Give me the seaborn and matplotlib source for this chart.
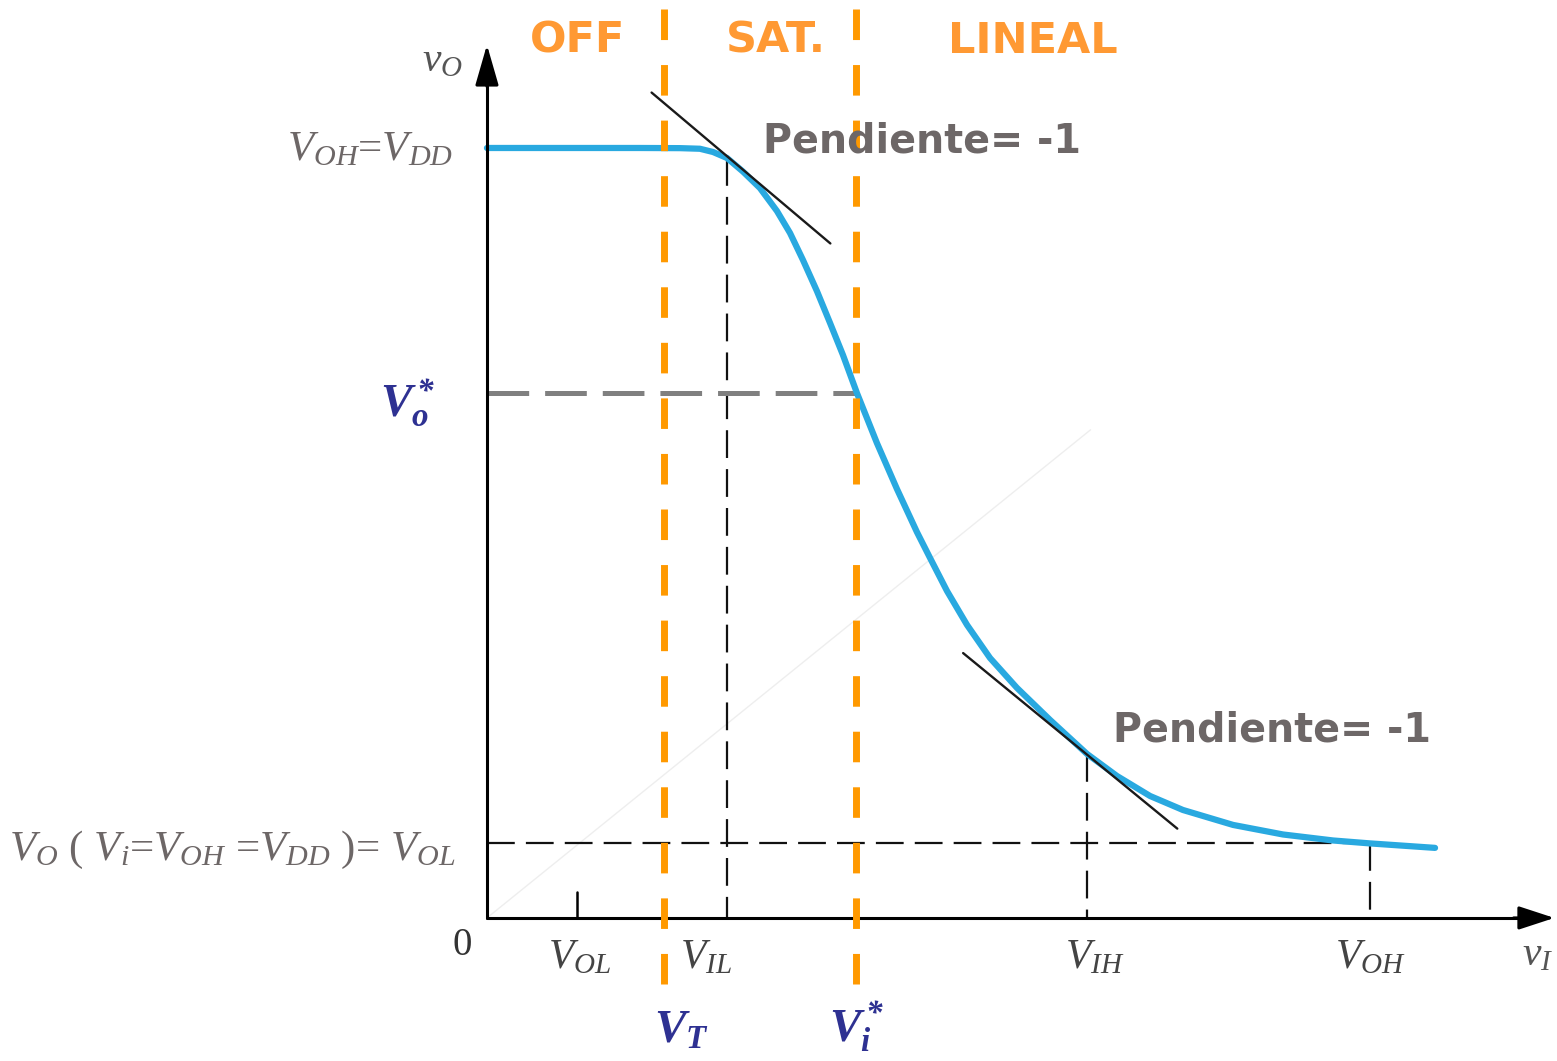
import matplotlib
matplotlib.use('Agg')
from matplotlib import pyplot as plt
import seaborn as sns

# --- datos (unidades arbitrarias de tensión) ---
vi_curve = [0.000, 0.864, 1.090, 1.203, 1.277, 1.356, 1.446, 1.542, 1.638, 1.712,
            1.785, 1.864, 1.938, 2.011, 2.090, 2.203, 2.316, 2.429, 2.503, 2.599,
            2.712, 2.842, 2.994, 3.181, 3.390, 3.559, 3.746, 3.932, 4.215, 4.497,
            4.780, 4.989, 5.356]
vo_curve = [5.000, 5.000, 4.999, 4.995, 4.974, 4.935, 4.847, 4.740, 4.591, 4.448,
            4.273, 4.071, 3.864, 3.656, 3.409, 3.084, 2.786, 2.506, 2.338, 2.123,
            1.903, 1.688, 1.494, 1.286, 1.065, 0.922, 0.792, 0.701, 0.604, 0.542,
            0.503, 0.484, 0.455]

V_DD = 5.0
V_OL_x = 0.51      # marca V_OL sobre el eje x
V_OL_y = 0.487     # nivel V_OL sobre el eje y
V_T = 1.0
V_IL = 1.356
V_IL_out = 4.935
V_i_star = 2.085
V_o_star = 3.41
V_IH = 3.39
V_IH_out = 1.065
V_OH = 4.989

tang_IL_x = [0.93, 1.94]
tang_IL_y = [5.36, 4.38]
tang_IH_x = [2.69, 3.90]
tang_IH_y = [1.72, 0.58]

region_names = ['OFF', 'SAT.', 'LINEAL']
region_x = [0.51, 1.63, 3.085]

sns.set_theme(style='white')
plt.rcParams['font.family'] = ['Liberation Serif', 'DejaVu Serif']
plt.rcParams['mathtext.fontset'] = 'custom'
plt.rcParams['mathtext.rm'] = 'Liberation Serif'
plt.rcParams['mathtext.it'] = 'Liberation Serif:italic'
plt.rcParams['mathtext.bf'] = 'Liberation Serif:bold:italic'
plt.rcParams['lines.scale_dashes'] = False

GRIS = '#6d6767'
AZUL = '#2e3192'
NARANJA = '#ff9900'
NARANJA_TXT = '#ff9933'
CURVA = '#29a9e0'

fig = plt.figure(figsize=(15.57, 10.61), dpi=100)
ax = fig.add_axes([0, 0, 1, 1])
ax.set_xlim(-2.751, 6.045)
ax.set_ylim(-0.929, 5.961)
ax.axis('off')

# diagonal tenue v_O = v_I del original
ax.plot([0, 3.41], [0, 3.17], color='#eeeeee', lw=1, zorder=1)

# lineas auxiliares negras discontinuas
neg = dict(color='#111111', lw=1.6, dashes=(20, 8), zorder=2)
ax.plot([0, V_OH], [V_OL_y, V_OL_y], **neg)
ax.plot([V_IL, V_IL], [V_IL_out, 0], **neg)
ax.plot([V_IH, V_IH], [V_IH_out, 0], **neg)
ax.plot([V_OH, V_OH], [V_OL_y, 0], **neg)

# V_o* gris
ax.plot([0, V_i_star], [V_o_star, V_o_star], color='#808080', lw=3.6,
        dashes=(30, 11.5), zorder=2)

# curva de transferencia
sns.lineplot(x=vi_curve, y=vo_curve, sort=False, estimator=None, color=CURVA,
             lw=4.5, ax=ax, zorder=3)

# tangentes pendiente -1
ax.plot(tang_IL_x, tang_IL_y, color='#1a1a1a', lw=1.7, zorder=4)
ax.plot(tang_IH_x, tang_IH_y, color='#1a1a1a', lw=1.7, zorder=4)

# ejes con flecha
ax.plot([0, 0], [0, 5.55], color='black', lw=2.2, zorder=5)
ax.plot([0, 5.9], [0, 0], color='black', lw=2.2, zorder=5)
ax.annotate('', xy=(0, 5.67), xytext=(0, 5.4),
            arrowprops=dict(arrowstyle='-|>,head_length=1.25,head_width=0.36',
                            color='black', lw=2.2, mutation_scale=20,
                            shrinkA=0, shrinkB=0), zorder=5)
ax.annotate('', xy=(6.03, 0), xytext=(5.8, 0),
            arrowprops=dict(arrowstyle='-|>,head_length=1.1,head_width=0.36',
                            color='black', lw=2.2, mutation_scale=20,
                            shrinkA=0, shrinkB=0), zorder=5)
ax.plot([V_OL_x, V_OL_x], [0, 0.17], color='black', lw=1.8, zorder=5)

# lineas naranjas de region
for xv in [V_T, V_i_star]:
    ax.plot([xv, xv], [5.90, -0.435], color=NARANJA, lw=5, dashes=(22, 18), zorder=6)

# textos
for name, xv in zip(region_names, region_x):
    ax.text(xv, 5.62, name, ha='center', va='baseline', color=NARANJA_TXT,
            fontsize=31, fontweight='bold', family='DejaVu Sans')

pend = dict(ha='left', va='baseline', color=GRIS, fontsize=28.5, fontweight='bold',
            family='DejaVu Sans', zorder=7)
ax.text(1.56, 4.97, 'Pendiente= -1', **pend)
ax.text(3.537, 1.143, 'Pendiente= -1', **pend)

ax.text(-0.25, 5.50, '$v_O$', ha='center', va='baseline', color='#555555', fontsize=30)
ax.text(-0.19, 4.92, '$V_{OH}$=$V_{DD}$', ha='right', va='baseline', color=GRIS, fontsize=31)
ax.text(-0.18, 0.377, '$V_O$ ( $V_i$=$V_{OH}$ =$V_{DD}$ )= $V_{OL}$', ha='right',
        va='baseline', color=GRIS, fontsize=31)
ax.text(-0.446, 3.25, r'$\mathbf{V_o^*}$', ha='center', va='baseline', color=AZUL, fontsize=34)

tick_names = ['$V_{OL}$', '$V_{IL}$', '$V_{IH}$', '$V_{OH}$']
tick_x = [0.525, 1.237, 3.435, 4.99]
for t, xv in zip(tick_names, tick_x):
    ax.text(xv, -0.325, t, ha='center', va='baseline', color='#444444', fontsize=30)
ax.text(-0.14, -0.24, '0', ha='center', va='baseline', color='#333333', fontsize=28)
ax.text(5.85, -0.31, '$v_I$', ha='left', va='baseline', color='#555555', fontsize=30)

ax.text(1.10, -0.81, r'$\mathbf{V_T}$', ha='center', va='baseline', color=AZUL, fontsize=34)
ax.text(2.09, -0.81, r'$\mathbf{V_i^*}$', ha='center', va='baseline', color=AZUL, fontsize=34)

fig.savefig('out.png', dpi=100)
